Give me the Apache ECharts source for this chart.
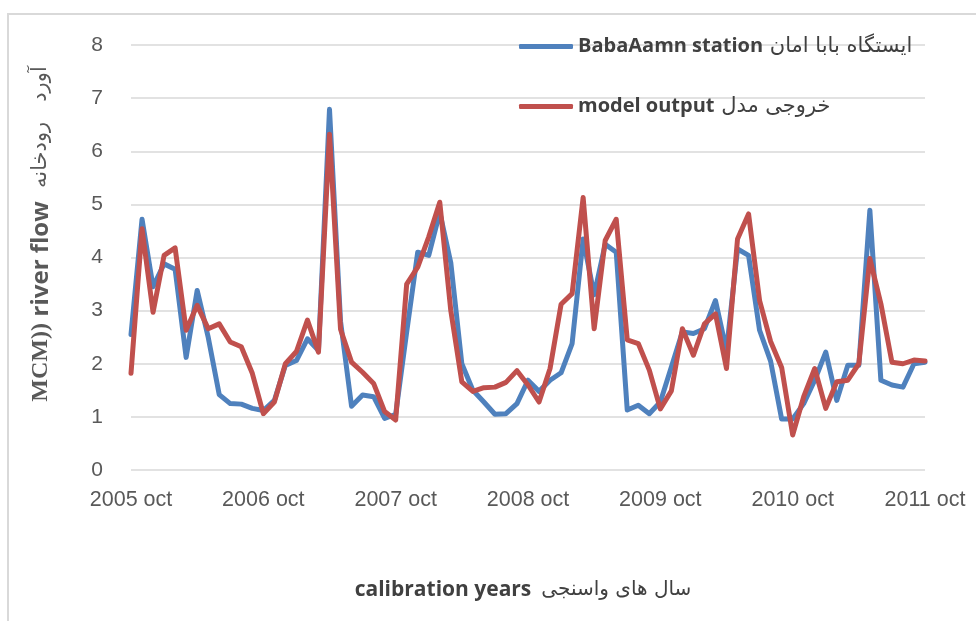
<!DOCTYPE html>
<html>
<head>
<meta charset="utf-8">
<script src="https://cdn.jsdelivr.net/npm/echarts@6/dist/echarts.min.js"></script>
<style>
  html, body { margin: 0; padding: 0; background: #fff; }
  #main { width: 976px; height: 621px; }
</style>
</head>
<body>
<div id="main"></div>
<script>
// ماه ها: اکتبر 2005 تا اکتبر 2011
var monthNames = ["oct", "nov", "dec", "jan", "feb", "mar", "apr", "may", "jun", "jul", "aug", "sep"];
var startYear = 2005;
var monthCount = 73;

// ایستگاه بابا امان (observed)
var stationFlow = [
  2.55, 4.72, 3.45, 3.88, 3.78, 2.12, 3.38, 2.5, 1.42, 1.25, 1.24, 1.16,
  1.12, 1.31, 1.97, 2.06, 2.47, 2.25, 6.79, 2.8, 1.2, 1.41, 1.38, 0.97,
  1.05, 2.6, 4.1, 4.04, 4.85, 3.9, 2.0, 1.5, 1.28, 1.05, 1.06, 1.25,
  1.69, 1.48, 1.69, 1.83, 2.38, 4.35, 3.3, 4.25, 4.1, 1.13, 1.22, 1.06,
  1.28, 1.94, 2.6, 2.57, 2.66, 3.19, 2.25, 4.16, 4.04, 2.63, 2.05, 0.96,
  0.96, 1.25, 1.69, 2.22, 1.31, 1.97, 1.97, 4.89, 1.69, 1.6, 1.56, 2.0,
  2.03
];

// خروجی مدل
var modelFlow = [
  1.82, 4.54, 2.97, 4.04, 4.18, 2.63, 3.1, 2.66, 2.75, 2.41, 2.32, 1.82,
  1.06, 1.28, 2.0, 2.23, 2.82, 2.22, 6.32, 2.65, 2.03, 1.84, 1.63, 1.1,
  0.94, 3.5, 3.82, 4.39, 5.04, 3.0, 1.66, 1.48, 1.55, 1.56, 1.65, 1.87,
  1.6, 1.28, 1.91, 3.12, 3.32, 5.13, 2.66, 4.32, 4.72, 2.45, 2.38, 1.88,
  1.15, 1.49, 2.66, 2.16, 2.75, 2.94, 1.91, 4.35, 4.82, 3.19, 2.42, 1.93,
  0.66, 1.38, 1.91, 1.16, 1.66, 1.69, 2.0, 3.98, 3.13, 2.03, 2.0, 2.07,
  2.05
];

var seriesNames = ["BabaAamn station", "model output"];
var seriesNamesFa = {
  "BabaAamn station": "ایستگاه بابا امان",
  "model output": "خروجی مدل"
};

var categories = [];
for (var i = 0; i < monthCount; i++) {
  var y = startYear + Math.floor((i + 9) / 12);
  categories.push(y + " " + monthNames[i % 12]);
}

var myChart = echarts.init(document.getElementById("main"));
var faFont = "'DejaVu Sans', sans-serif";
var option = {
  animation: false,
  backgroundColor: "#fff",
  grid: {
    left: 131,
    right: 51,
    top: 45,
    bottom: 151
  },
  legend: {
    orient: "vertical",
    left: 514,
    top: 31,
    itemGap: 39,
    itemWidth: 54,
    itemHeight: 5,
    icon: "roundRect",
    data: seriesNames,
    formatter: function (name) {
      return "{b|" + name + "}  {p|" + seriesNamesFa[name] + "}";
    },
    textStyle: {
      rich: {
        b: { fontFamily: "'Open Sans', sans-serif", fontWeight: "bold", fontSize: 20, color: "#404040", lineHeight: 28 },
        p: { fontFamily: faFont, fontSize: 21, color: "#404040", lineHeight: 28 }
      }
    }
  },
  xAxis: {
    type: "category",
    boundaryGap: false,
    data: categories,
    axisLine: { show: false },
    axisTick: { show: false },
    axisLabel: {
      interval: 11,
      margin: 19,
      color: "#595959",
      fontSize: 21.5,
      fontFamily: "'Liberation Sans', sans-serif"
    },
    splitLine: { show: false }
  },
  yAxis: {
    type: "value",
    min: 0,
    max: 8,
    interval: 1,
    axisLine: { show: false },
    axisTick: { show: false },
    axisLabel: {
      margin: 28,
      color: "#595959",
      fontSize: 21,
      fontFamily: "'Liberation Sans', sans-serif"
    },
    splitLine: {
      lineStyle: { color: "#d9d9d9", width: 1.5 }
    }
  },
  series: [
    {
      name: seriesNames[0],
      type: "line",
      data: stationFlow,
      showSymbol: false,
      lineStyle: { color: "#4f81bd", width: 5, join: "round", cap: "round" },
      itemStyle: { color: "#4f81bd" }
    },
    {
      name: seriesNames[1],
      type: "line",
      data: modelFlow,
      showSymbol: false,
      lineStyle: { color: "#c0504d", width: 5, join: "round", cap: "round" },
      itemStyle: { color: "#c0504d" }
    }
  ],
  graphic: [
    {
      // قاب نمودار
      type: "rect",
      shape: { x: 8, y: 14, width: 1000, height: 700 },
      style: { fill: "none", stroke: "#d9d9d9", lineWidth: 2 },
      silent: true
    },
    {
      // عنوان محور عمودی
      type: "text",
      x: 41,
      y: 234,
      rotation: Math.PI / 2,
      style: {
        text: "{m|MCM))}  {b|river flow}    {p|آورد   رودخانه}",
        align: "center",
        verticalAlign: "middle",
        rich: {
          m: { fontFamily: "'Liberation Serif', serif", fontWeight: "bold", fontSize: 24, fill: "#595959" },
          b: { fontFamily: "'Open Sans', sans-serif", fontWeight: "bold", fontSize: 24, fill: "#595959" },
          p: { fontFamily: faFont, fontSize: 21, fill: "#595959" }
        }
      }
    },
    {
      // عنوان محور افقی
      type: "text",
      x: 523,
      y: 590,
      style: {
        text: "{b|calibration years}   {p|سال های واسنجی}",
        align: "center",
        verticalAlign: "middle",
        rich: {
          b: { fontFamily: "'Open Sans', sans-serif", fontWeight: "bold", fontSize: 21, fill: "#404040" },
          p: { fontFamily: faFont, fontSize: 20, fill: "#404040" }
        }
      }
    }
  ]
};

myChart.setOption(option);
window.addEventListener("resize", function () {
  myChart.resize();
});
</script>
</body>
</html>
